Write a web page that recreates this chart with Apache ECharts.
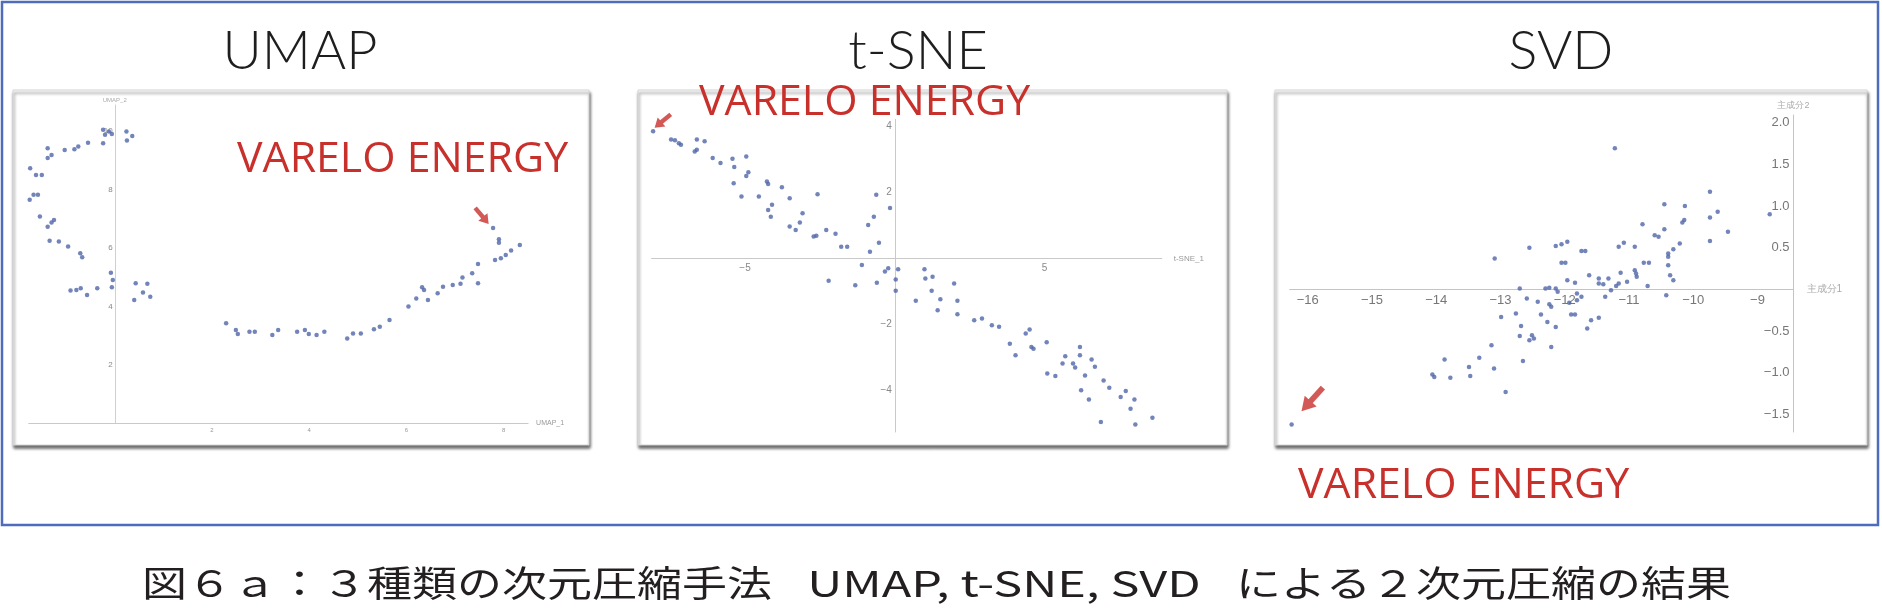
<!DOCTYPE html>
<html><head><meta charset="utf-8">
<script src="https://cdn.jsdelivr.net/npm/echarts@6/dist/echarts.min.js"></script>
<style>html,body{margin:0;padding:0;background:#fff}#c{width:1882px;height:610px}</style>
</head><body><div id="c"></div>
<script>
// ---------- data ----------
const panelTitles = ['UMAP', 't-SNE', 'SVD'];
const highlightLabel = 'VARELO ENERGY';
const captionParts = ['図６ａ：３種類の次元圧縮手法', 'UMAP, t-SNE, SVD', 'による２次元圧縮の結果'];

const umapPoints = [
  [-0.24,10.05],[-0.12,9.99],[-0.20,9.88],[-0.06,9.91],[0.24,9.99],[0.36,9.84],[0.25,9.68],[-0.24,9.59],
  [-0.55,9.61],[-0.75,9.48],[-0.83,9.38],[-1.03,9.36],[-1.38,9.42],[-1.38,9.08],[-1.30,9.19],[-1.74,8.73],
  [-1.62,8.50],[-1.50,8.50],[-1.78,8.05],[-1.67,7.82],[-1.75,7.65],[-1.58,7.82],[-1.54,7.08],[-1.38,6.73],
  [-1.30,6.87],[-1.25,6.96],[-1.34,6.25],[-1.15,6.22],[-0.96,6.05],[-0.71,5.82],[-0.67,5.68],[-0.08,5.15],
  [-0.04,4.90],[-0.06,4.65],[-0.91,4.54],[-0.79,4.56],[-0.70,4.62],[-0.57,4.39],[-0.36,4.62],[0.43,4.79],
  [0.67,4.77],[0.40,4.22],[0.58,4.47],[0.73,4.33],
  [2.29,3.42],[2.49,3.19],[2.53,3.05],[2.77,3.13],[2.88,3.13],[3.24,3.02],[3.36,3.19],[3.75,3.13],
  [3.91,3.19],[3.99,3.05],[4.15,3.02],[4.31,3.13],[4.78,2.90],[4.90,3.07],[5.06,3.07],[5.33,3.21],
  [5.45,3.30],[5.65,3.53],[6.04,3.99],[6.20,4.27],[6.32,4.65],[6.44,4.22],[6.36,4.56],[6.64,4.45],
  [6.75,4.67],[6.95,4.73],[7.11,4.77],[7.15,4.99],[7.35,5.13],[7.47,5.45],[7.47,4.79],[7.78,6.68],
  [7.90,6.30],[7.90,6.18],[7.82,5.59],[7.94,5.65],[8.04,5.76],[8.15,5.91],[8.33,6.10]
];
const umapArrow = [[7.55, 7.10]];
const umapRange = {x: [-1.77, 8.50], y: [0, 10.9]};
const umapXTicks = [2, 4, 6, 8];
const umapYTicks = [2, 4, 6, 8, 10];

const tsnePoints = [
  [-8.07,3.84],[-7.47,3.59],[-7.34,3.57],[-7.21,3.48],[-7.14,3.43],[-6.61,3.59],[-6.35,3.54],[-6.68,3.23],
  [-6.61,3.28],[-6.08,3.03],[-5.82,2.88],[-5.42,3.01],[-5.36,2.76],[-4.96,3.08],[-4.89,2.60],[-4.96,2.49],
  [-5.38,2.27],[-5.12,1.87],[-4.54,1.87],[-4.27,2.32],[-4.23,2.25],[-3.77,2.15],[-3.51,1.82],[-4.10,1.62],
  [-4.23,1.46],[-4.14,1.26],[-3.08,1.36],[-3.17,1.08],[-3.51,0.96],[-3.31,0.86],[-2.58,1.94],[-2.71,0.66],
  [-2.62,0.68],[-2.29,0.86],[-1.98,0.74],[-1.79,0.35],[-1.59,0.35],[-0.62,1.92],[-0.70,1.26],[-0.16,1.52],
  [-0.89,1.01],[-0.53,0.47],[-0.83,0.20],[-1.10,-0.20],[-2.21,-0.68],[-1.32,-0.81],[-0.60,-0.74],[-0.33,-0.40],
  [-0.22,-0.30],[0.11,-0.33],[0.03,-0.64],[0.03,-0.98],[0.99,-0.33],[1.02,-0.61],[1.26,-0.56],[1.23,-0.98],
  [1.52,-1.24],[1.98,-0.76],[2.09,-1.28],[1.43,-1.57],[2.09,-1.69],[0.70,-1.28],[2.65,-1.87],[2.91,-1.82],
  [3.24,-2.02],[3.48,-2.07],[3.84,-2.58],[4.03,-2.93],[4.37,-2.27],[4.50,-2.15],[4.56,-2.68],[4.63,-2.73],
  [5.07,-2.54],[5.09,-3.48],[5.36,-3.56],[5.69,-2.96],[5.60,-3.18],[5.95,-3.18],[6.02,-3.30],[6.18,-2.68],
  [6.18,-2.93],[6.35,-3.54],[6.57,-3.06],[6.68,-3.28],[6.22,-3.99],[6.48,-4.27],[6.97,-3.69],[7.16,-3.91],
  [7.54,-4.19],[7.71,-4.01],[8.00,-4.27],[7.87,-4.55],[6.88,-4.95],[8.03,-5.02],[8.60,-4.82]
];
const tsneArrow = [[-7.75, 4.15]];
const tsneRange = {x: [-8.12, 8.91], y: [-5.25, 4.2]};
const tsneXTicks = [-5, 5];
const tsneYTicks = [-4, -2, 2, 4];

const svdPoints = [
  [-11.22,1.69],[-9.74,1.17],[-10.45,1.02],[-10.13,1.00],[-9.62,0.93],[-9.74,0.86],[-8.81,0.90],[-10.14,0.83],
  [-10.17,0.80],[-10.79,0.78],[-9.46,0.69],[-10.45,0.72],[-10.60,0.65],[-10.54,0.63],[-9.74,0.58],[-10.21,0.55],
  [-10.31,0.48],[-10.39,0.43],[-10.39,0.39],[-10.39,0.29],[-10.36,0.17],[-10.31,0.11],[-11.16,0.51],[-11.08,0.56],
  [-10.91,0.51],[-12.05,0.54],[-11.96,0.57],[-12.14,0.52],[-12.55,0.50],[-11.68,0.46],[-11.74,0.46],[-13.09,0.37],
  [-12.05,0.32],[-11.99,0.32],[-10.77,0.32],[-10.69,0.32],[-10.91,0.23],[-10.89,0.19],[-11.13,0.20],[-11.62,0.17],
  [-11.47,0.13],[-11.32,0.13],[-11.47,0.07],[-11.40,0.06],[-11.16,0.07],[-11.03,0.09],[-10.88,0.15],[-10.71,0.04],
  [-11.20,0.04],[-11.28,-0.01],[-11.37,-0.09],[-10.42,-0.07],[-11.96,0.11],[-11.84,0.08],[-12.24,0.02],[-12.14,0.01],
  [-12.11,-0.03],[-12.30,0.01],[-12.70,0.01],[-11.81,-0.05],[-11.74,-0.09],[-11.81,-0.13],[-12.59,-0.11],[-12.42,-0.15],
  [-12.24,-0.18],[-11.93,-0.16],[-12.21,-0.21],[-11.90,-0.30],[-11.84,-0.30],[-12.37,-0.30],[-12.76,-0.29],[-12.99,-0.33],
  [-12.27,-0.39],[-12.14,-0.45],[-12.68,-0.44],[-12.70,-0.56],[-12.51,-0.55],[-12.55,-0.61],[-12.48,-0.59],[-12.21,-0.69],
  [-11.59,-0.37],[-11.47,-0.34],[-11.65,-0.47],[-13.14,-0.67],[-13.33,-0.82],[-12.65,-0.86],[-13.87,-0.84],[-13.49,-0.93],
  [-13.10,-0.95],[-14.06,-1.02],[-14.03,-1.05],[-13.78,-1.06],[-13.47,-1.04],[-12.92,-1.23],[-16.25,-1.62]
];
const svdArrow = [[-15.93, -1.32]];
const svdRange = {x: [-16.28, -8.44], y: [-1.71, 2.09]};
const svdXTicks = [-16, -15, -14, -13, -12, -11, -10, -9];
const svdYTicks = [-1.5, -1.0, -0.5, 0.5, 1.0, 1.5, 2.0];
const svdAxisNames = ['主成分1', '主成分2'];

// ---------- layout / styles ----------
const W = 1882, H = 610;
const grids = [
  {left: 28.7, right: 1353.9, top: 105, bottom: 187},
  {left: 651.6, right: 720.3, top: 119.4, bottom: 178},
  {left: 1289.7, right: 88.5, top: 115, bottom: 178}
];
// offset that places an axis on the zero line of the other axis
function xAxisZeroOffset(g, yr) {
  const h = H - g.top - g.bottom;
  return -h * (0 - yr[0]) / (yr[1] - yr[0]);
}
function yAxisZeroOffset(g, xr) {
  const w = W - g.left - g.right;
  return -w * (0 - xr[0]) / (xr[1] - xr[0]);
}
const dotColor = '#4f65a8';
const red = '#c8302c';
const arrowPath = 'path://M5,0 L10,6 L6.8,6 L6.8,14 L3.2,14 L3.2,6 L0,6 Z';
function minus(s){ return String(s).replace('-', '−'); }

const chart = echarts.init(document.getElementById('c'), null, {renderer: 'canvas'});

const panelRect = (x, w) => ({type: 'rect', z: 1, silent: true, shape: {x: x, y: 90, width: w, height: 355},
  style: {fill: '#fff', stroke: '#d4d4d4', lineWidth: 1, shadowBlur: 3, shadowColor: 'rgba(0,0,0,0.6)', shadowOffsetX: 1, shadowOffsetY: 3}});
const titleText = (x, t) => ({type: 'text', z: 20, silent: true, x: x, y: 52,
  style: {text: t, fill: '#1e1e1e', fontSize: 54, fontFamily: 'Lato', fontWeight: 300,
    textAlign: 'center', textVerticalAlign: 'middle', align: 'center', verticalAlign: 'middle'}});
const redText = (x, y) => ({type: 'text', z: 20, silent: true, x: x, y: y, scaleX: 1.02,
  style: {text: highlightLabel, fill: red, fontSize: 42, fontFamily: 'Open Sans',
    textAlign: 'left', textVerticalAlign: 'middle', align: 'left', verticalAlign: 'middle'}});
const capText = (x, t, align, sx) => ({type: 'text', z: 20, silent: true, x: x, y: 583, scaleX: sx, scaleY: 0.8,
  style: {text: t, fill: '#231f20', fontSize: 45, fontFamily: 'Noto Sans CJK JP',
    textAlign: align, textVerticalAlign: 'middle', align: align, verticalAlign: 'middle'}});

const option = {
  animation: false,
  grid: grids,
  xAxis: [
    {gridIndex: 0, type: 'value', min: umapRange.x[0], max: umapRange.x[1], z: 5,
     name: 'UMAP_1', nameLocation: 'end', nameGap: 8,
     nameTextStyle: {fontSize: 7, color: '#999'},
     axisLine: {show: true, onZero: false, lineStyle: {color: '#c9c9c9'}},
     axisTick: {show: false}, splitLine: {show: false},
     axisLabel: {customValues: umapXTicks, fontSize: 6, color: '#999', margin: 4}},
    {gridIndex: 1, type: 'value', min: tsneRange.x[0], max: tsneRange.x[1], z: 5,
     offset: xAxisZeroOffset(grids[1], tsneRange.y),
     name: 't-SNE_1', nameLocation: 'end', nameGap: 12,
     nameTextStyle: {fontSize: 8, color: '#999'},
     axisLine: {show: true, onZero: false, lineStyle: {color: '#c9c9c9'}},
     axisTick: {show: false}, splitLine: {show: false},
     axisLabel: {customValues: tsneXTicks, fontSize: 10, color: '#888', margin: 5, formatter: minus}},
    {gridIndex: 2, type: 'value', min: svdRange.x[0], max: svdRange.x[1], z: 5,
     offset: xAxisZeroOffset(grids[2], svdRange.y),
     name: svdAxisNames[0], nameLocation: 'end', nameGap: 13,
     nameTextStyle: {fontSize: 10, color: '#aaa'},
     axisLine: {show: true, onZero: false, lineStyle: {color: '#c4c4c4'}},
     axisTick: {show: false}, splitLine: {show: false},
     axisLabel: {customValues: svdXTicks, fontSize: 13, color: '#777', margin: 5, formatter: minus}}
  ],
  yAxis: [
    {gridIndex: 0, type: 'value', min: umapRange.y[0], max: umapRange.y[1], z: 5,
     offset: yAxisZeroOffset(grids[0], umapRange.x),
     name: 'UMAP_2', nameLocation: 'end', nameGap: 2,
     nameTextStyle: {fontSize: 6, color: '#aaa'},
     axisLine: {show: true, onZero: false, lineStyle: {color: '#d0d0d0'}},
     axisTick: {show: false}, splitLine: {show: false},
     axisLabel: {customValues: umapYTicks, fontSize: 8, color: '#888', margin: 2}},
    {gridIndex: 1, type: 'value', min: tsneRange.y[0], max: tsneRange.y[1], z: 5,
     offset: yAxisZeroOffset(grids[1], tsneRange.x),
     axisLine: {show: true, onZero: false, lineStyle: {color: '#c9c9c9'}},
     axisTick: {show: false}, splitLine: {show: false},
     axisLabel: {customValues: tsneYTicks, fontSize: 10, color: '#888', margin: 3, formatter: minus}},
    {gridIndex: 2, type: 'value', min: svdRange.y[0], max: svdRange.y[1], position: 'right', z: 5,
     name: svdAxisNames[1], nameLocation: 'end', nameGap: 5,
     nameTextStyle: {fontSize: 9, color: '#aaa'},
     axisLine: {show: true, onZero: false, lineStyle: {color: '#c4c4c4'}},
     axisTick: {show: false}, splitLine: {show: false},
     axisLabel: {customValues: svdYTicks, inside: true, fontSize: 13, color: '#777', margin: 4,
       formatter: v => minus(Number(v).toFixed(1))}}
  ],
  series: [
    {type: 'scatter', xAxisIndex: 0, yAxisIndex: 0, data: umapPoints, symbolSize: 4.5, z: 6,
     itemStyle: {color: dotColor}, silent: true},
    {type: 'scatter', xAxisIndex: 0, yAxisIndex: 0, data: umapArrow, symbol: arrowPath, symbolSize: [12, 21],
     symbolRotate: -140, z: 7, clip: false, itemStyle: {color: red}, silent: true},
    {type: 'scatter', xAxisIndex: 1, yAxisIndex: 1, data: tsnePoints, symbolSize: 4.5, z: 6,
     clip: false, itemStyle: {color: dotColor}, silent: true},
    {type: 'scatter', xAxisIndex: 1, yAxisIndex: 1, data: tsneArrow, symbol: arrowPath, symbolSize: [12, 21],
     symbolRotate: 130, z: 7, clip: false, itemStyle: {color: red}, silent: true},
    {type: 'scatter', xAxisIndex: 2, yAxisIndex: 2, data: svdPoints, symbolSize: 4.5, z: 6,
     itemStyle: {color: dotColor}, silent: true},
    {type: 'scatter', xAxisIndex: 2, yAxisIndex: 2, data: svdArrow, symbol: arrowPath, symbolSize: [16, 32],
     symbolRotate: 138, z: 7, clip: false, itemStyle: {color: red}, silent: true}
  ],
  graphic: {elements: [
    {type: 'rect', z: 1, silent: true, shape: {x: 2, y: 2, width: 1876, height: 523},
     style: {fill: '#fff', stroke: '#4e6bbd', lineWidth: 2.5}},
    panelRect(13, 576), panelRect(638, 589), panelRect(1275, 592),
    titleText(300, panelTitles[0]), titleText(918, panelTitles[1]), titleText(1561, panelTitles[2]),
    redText(237, 160), redText(699, 103), redText(1298, 486),
    capText(142, captionParts[0], 'left', 1),
    capText(1004, captionParts[1], 'center', 1.08),
    capText(1731, captionParts[2], 'right', 1)
  ]}
};
chart.setOption(option);
</script>
</body></html>
